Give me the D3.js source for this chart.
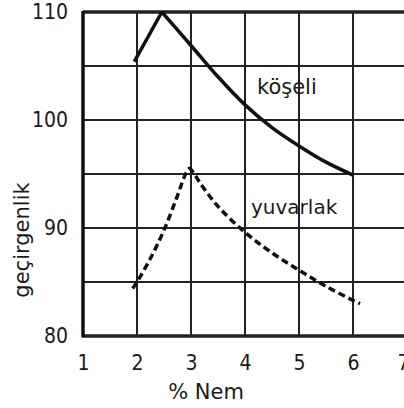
<!DOCTYPE html>
<html>
<head>
<meta charset="utf-8">
<script src="https://cdn.jsdelivr.net/npm/d3@7"></script>
<style>
  body { margin: 0; background: #fff; }
  svg { display: block; }
  .tick text { font-family: "Liberation Sans Narrow", "DejaVu Sans Condensed", sans-serif; font-size: 21px; fill: #1a1a1a; }
  .lbl { font-family: "DejaVu Sans", sans-serif; fill: #1a1a1a; }
</style>
</head>
<body>
<div id="chart"></div>
<script>

// values
var xTicks = [1, 2, 3, 4, 5, 6, 7];
var yTicks = [80, 90, 100, 110];
var yGrid = [80, 85, 90, 95, 100, 105, 110];

var koseliX = [1.95, 2.46, 3, 3.5, 4, 4.5, 5, 5.5, 6];
var koseliY = [105.4, 110, 106.9, 104.0, 101.4, 99.3, 97.6, 96.1, 94.9];

var yuvarlakX = [1.92, 2.0, 2.25, 2.5, 2.75, 2.9, 2.97, 3.05, 3.15, 3.5, 4, 4.5, 5, 5.5, 6, 6.13];
var yuvarlakY = [84.4, 85.0, 87.2, 89.8, 93.0, 95.0, 95.5, 95.1, 94.3, 92.0, 89.6, 87.7, 86.1, 84.6, 83.3, 83.0];

var fullWidth = 404, fullHeight = 408;

var x = d3.scaleLinear().domain([1, 7]).range([83, 407]);
var y = d3.scaleLinear().domain([80, 110]).range([336, 12]);

var svg = d3.select("#chart").append("svg")
    .attr("width", fullWidth)
    .attr("height", fullHeight);

// grid
svg.append("g").selectAll("line")
    .data(xTicks.slice(1))
    .enter().append("line")
    .attr("x1", function(d) { return x(d); })
    .attr("x2", function(d) { return x(d); })
    .attr("y1", y(110))
    .attr("y2", y(80))
    .attr("stroke", "#222")
    .attr("stroke-width", 2);

svg.append("g").selectAll("line")
    .data(yGrid)
    .enter().append("line")
    .attr("x1", x(1))
    .attr("x2", x(7))
    .attr("y1", function(d) { return y(d); })
    .attr("y2", function(d) { return y(d); })
    .attr("stroke", "#222")
    .attr("stroke-width", function(d) { return (d == 80 || d == 110) ? 3.5 : 2; });

// left border
svg.append("line")
    .attr("x1", x(1)).attr("x2", x(1))
    .attr("y1", y(110) - 1).attr("y2", y(80) + 1.5)
    .attr("stroke", "#111")
    .attr("stroke-width", 3.5);

// axes (labels only)
var yAxis = d3.axisLeft(y).tickValues(yTicks).tickSize(0).tickPadding(15).tickFormat(d3.format("d"));
var xAxis = d3.axisBottom(x).tickValues(xTicks).tickSize(0).tickPadding(19).tickFormat(d3.format("d"));

svg.append("g")
    .attr("transform", "translate(" + x(1) + ",0)")
    .call(yAxis)
    .call(function(g) { g.select(".domain").remove(); });

svg.append("g")
    .attr("transform", "translate(0," + y(80) + ")")
    .call(xAxis)
    .call(function(g) { g.select(".domain").remove(); })
    // the last label sits half off the page, as in the scan
    .call(function(g) { g.selectAll(".tick text").filter(function(d) { return d == 7; }).attr("dx", -4); });

// curves
var koseli = koseliX.map(function(d, i) { return [d, koseliY[i]]; });
var yuvarlak = yuvarlakX.map(function(d, i) { return [d, yuvarlakY[i]]; });

var lineSharp = d3.line()
    .x(function(d) { return x(d[0]); })
    .y(function(d) { return y(d[1]); });

var lineSmooth = d3.line()
    .x(function(d) { return x(d[0]); })
    .y(function(d) { return y(d[1]); })
    .curve(d3.curveCatmullRom.alpha(0.5));

// rising part straight, falling part smooth
svg.append("path")
    .attr("d", lineSharp(koseli.slice(0, 2)))
    .attr("fill", "none")
    .attr("stroke", "#111")
    .attr("stroke-width", 3.5)
    .attr("stroke-linejoin", "round");

svg.append("path")
    .attr("d", lineSmooth(koseli.slice(1)))
    .attr("fill", "none")
    .attr("stroke", "#111")
    .attr("stroke-width", 3.5);

svg.append("path")
    .attr("d", lineSmooth(yuvarlak))
    .attr("fill", "none")
    .attr("stroke", "#111")
    .attr("stroke-width", 3.5)
    .attr("stroke-dasharray", "7,4");

// labels
svg.append("text").attr("class", "lbl")
    .attr("x", 257).attr("y", 94)
    .attr("font-size", 21)
    .text("köşeli");

svg.append("text").attr("class", "lbl")
    .attr("x", 251).attr("y", 214)
    .attr("font-size", 20)
    .text("yuvarlak");

svg.append("text").attr("class", "lbl")
    .attr("x", 206).attr("y", 399)
    .attr("text-anchor", "middle")
    .attr("font-size", 21)
    .text("% Nem");

svg.append("text").attr("class", "lbl")
    .attr("transform", "translate(29,240) rotate(-90)")
    .attr("text-anchor", "middle")
    .attr("font-size", 21)
    .text("geçirgenlik");

</script>
</body>
</html>
